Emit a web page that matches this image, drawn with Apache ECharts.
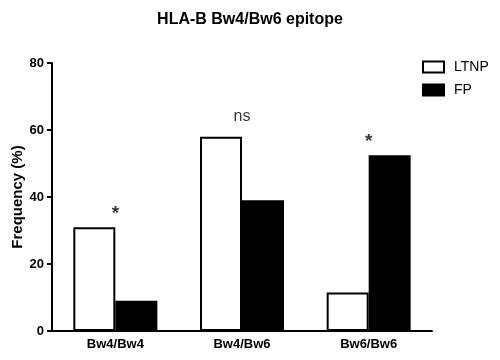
<!DOCTYPE html>
<html>
<head>
<meta charset="utf-8">
<script src="https://cdn.jsdelivr.net/npm/echarts@6/dist/echarts.min.js"></script>
<style>
html,body{margin:0;padding:0;background:#fff;}
#bar{width:500px;height:360px;}
</style>
</head>
<body>
<div id="bar"></div>
<script>
var categories = ['Bw4/Bw4', 'Bw4/Bw6', 'Bw6/Bw6'];
var ltnp = [31, 58, 11.5];
var fp = [9, 39, 52.5];
// significance marks above each group
var markText = ['*', 'ns', '*'];
var markY = [35, 64, 56.5];
var yTicks = [0, 20, 40, 60, 80];

var myChart = echarts.init(document.getElementById('bar'));

var marks = [];
for (var i = 0; i < categories.length; i++) {
	marks.push({
		value: [categories[i], markY[i]],
		label: {
			formatter: markText[i],
			fontSize: markText[i] == '*' ? 19 : 16,
			fontWeight: markText[i] == '*' ? 'bold' : 'normal'
		}
	});
}

var option = {
	animation: false,
	backgroundColor: '#fff',
	textStyle: { fontFamily: 'Liberation Sans, Arial, sans-serif' },
	title: {
		text: 'HLA-B Bw4/Bw6 epitope',
		left: 'center',
		top: 7,
		textStyle: { fontSize: 16, fontWeight: 'bold', color: '#000' }
	},
	legend: {
		orient: 'vertical',
		left: 417,
		top: 55,
		icon: 'rect',
		itemWidth: 21,
		itemHeight: 11,
		itemGap: 9,
		data: ['LTNP', 'FP'],
		textStyle: { fontSize: 14, color: '#000', padding: [0, 0, 0, 5] }
	},
	grid: { left: 52, right: 68, top: 63, bottom: 29, outerBoundsMode: 'none' },
	xAxis: {
		type: 'category',
		data: categories,
		axisLine: { lineStyle: { color: '#000', width: 2 } },
		axisTick: { alignWithLabel: true, length: 5, lineStyle: { color: '#000', width: 2 } },
		axisLabel: { color: '#000', fontWeight: 'bold', fontSize: 13, margin: 7 }
	},
	yAxis: {
		type: 'value',
		min: yTicks[0],
		max: yTicks[yTicks.length - 1],
		interval: 20,
		name: 'Frequency (%)',
		nameLocation: 'middle',
		nameGap: 27,
		nameMoveOverlap: false,
		nameTextStyle: { fontSize: 15, fontWeight: 'bold', color: '#000' },
		axisLine: { show: true, lineStyle: { color: '#000', width: 2 } },
		axisTick: { show: true, length: 5, lineStyle: { color: '#000', width: 2 } },
		axisLabel: { color: '#000', fontWeight: 'bold', fontSize: 13, margin: 8 },
		splitLine: { show: false }
	},
	series: [
		{
			name: 'LTNP',
			type: 'bar',
			barWidth: 42,
			barGap: '0%',
			data: ltnp,
			itemStyle: { color: '#fff', borderColor: '#000', borderWidth: 2 }
		},
		{
			name: 'FP',
			type: 'bar',
			barWidth: 42,
			barGap: '0%',
			data: fp,
			itemStyle: { color: '#000', borderColor: '#000', borderWidth: 2 }
		},
		{
			name: 'sig',
			type: 'scatter',
			symbolSize: 0,
			data: marks,
			silent: true,
			label: {
				show: true,
				position: 'inside',
				color: '#000'
			}
		}
	]
};
myChart.setOption(option);
</script>
</body>
</html>
